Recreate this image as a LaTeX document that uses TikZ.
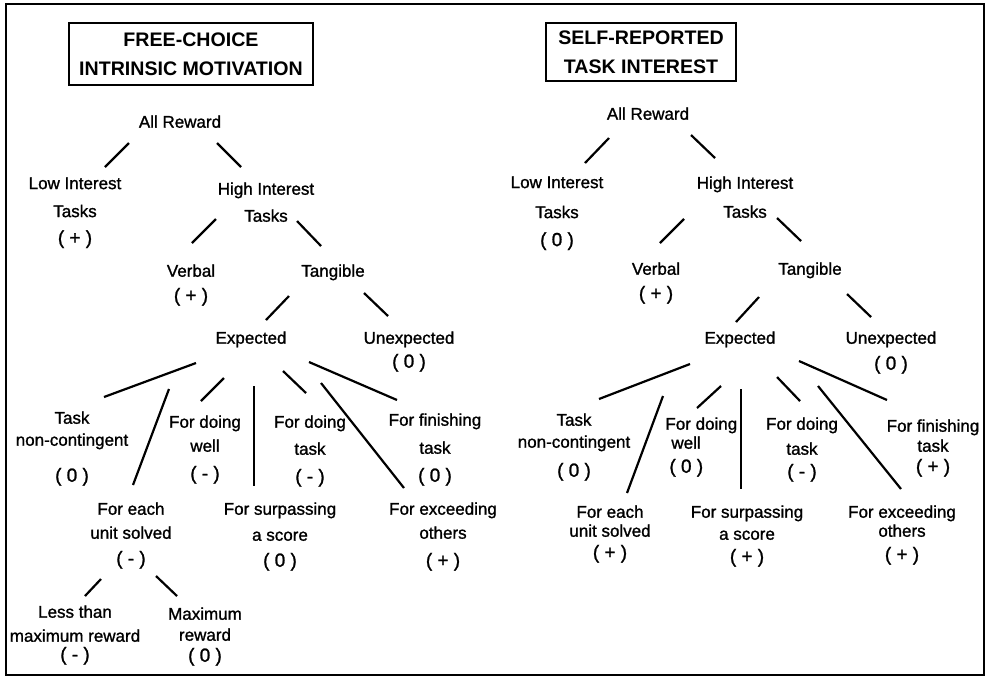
\documentclass[tikz,border=0pt]{standalone}
\usepackage{fontspec}
\setmainfont{Liberation Sans}
\newfontfamily\lblfont{Liberation Sans}[FakeBold=1.2]

\newcommand{\sg}[1]{{\fontsize{9.5}{9.5}\selectfont( #1 )}}

\begin{document}
\begin{tikzpicture}[
    x=0.5pt, y=-0.5pt,
    % Define custom styles for labels, titles and links
    lbl/.style={
        inner sep=0pt,
        align=center,
        anchor=north,
        font=\lblfont\fontsize{8.5}{9.5}\selectfont
    },
    ttl/.style={
        draw,
        line width=1.1pt,
        inner sep=0pt,
        align=center,
        font=\fontsize{9.8}{14.5}\selectfont\bfseries
    },
    link/.style={line width=1.1pt}
]
\useasboundingbox (0,0) rectangle (988,677);
\draw[line width=1pt] (6,4) rectangle (984,675);

% Titles
\node[ttl, minimum width=122pt, minimum height=31pt] (tl) at (191,54) {FREE-CHOICE\\INTRINSIC MOTIVATION};
\node[ttl, minimum width=95pt, minimum height=29pt] (tr) at (641,52) {SELF-REPORTED\\TASK INTEREST};

% Left tree
\node[lbl] (ar1) at (180,115) {All Reward};
\node[lbl] (lo1) at (75,177) {Low Interest\\[4.5pt]Tasks\\[4pt]\sg{+}};
\node[lbl] (hi1) at (266,182) {High Interest\\[4pt]Tasks};
\node[lbl] (vb1) at (191,264) {Verbal\\[3pt]\sg{+}};
\node[lbl] (tg1) at (333,264) {Tangible};
\node[lbl] (ex1) at (251,331) {Expected};
\node[lbl] (un1) at (409,331) {Unexpected\\[2.5pt]\sg{0}};
\node[lbl] (tn1) at (72,411) {Task\\[1.5pt]non-contingent\\[8.5pt]\sg{0}};
\node[lbl] (dw1) at (205,415) {For doing\\[2.5pt]well\\[4.5pt]\sg{-}};
\node[lbl] (dt1) at (310,415) {For doing\\[4pt]task\\[4.5pt]\sg{-}};
\node[lbl] (fn1) at (435,413) {For finishing\\[4.5pt]task\\[4.5pt]\sg{0}};
\node[lbl] (fe1) at (131,502) {For each\\[2.5pt]unit solved\\[3.5pt]\sg{-}};
\node[lbl] (sp1) at (280,502) {For surpassing\\[3.5pt]a score\\[3.5pt]\sg{0}};
\node[lbl] (xc1) at (443,502) {For exceeding\\[2.5pt]others\\[4.5pt]\sg{+}};
\node[lbl] (ls1) at (75,605) {Less than\\[2.5pt]maximum reward\\\sg{-}};
\node[lbl] (mx1) at (205,607) {Maximum\\[1pt]reward\\[1pt]\sg{0}};

\draw[link] ([shift={(-51,28)}]ar1.north) -- ([shift={(30,-10)}]lo1.north);
\draw[link] ([shift={(37,28)}]ar1.north) -- ([shift={(-25,-15)}]hi1.north);
\draw[link] ([shift={(-50,37)}]hi1.north) -- ([shift={(1,-21)}]vb1.north);
\draw[link] ([shift={(31,39)}]hi1.north) -- ([shift={(-12,-18)}]tg1.north);
\draw[link] ([shift={(-44,32)}]tg1.north) -- ([shift={(15,-11)}]ex1.north);
\draw[link] ([shift={(31,29)}]tg1.north) -- ([shift={(-21,-15)}]un1.north);
\draw[link] ([shift={(-55,32)}]ex1.north) -- ([shift={(32,-14)}]tn1.north);
\draw[link] ([shift={(-82,58)}]ex1.north) -- ([shift={(2,-17)}]fe1.north);
\draw[link] ([shift={(-27,47)}]ex1.north) -- ([shift={(-4,-14)}]dw1.north);
\draw[link] ([shift={(3,55)}]ex1.north) -- ([shift={(-26,-16)}]sp1.north);
\draw[link] ([shift={(32,40)}]ex1.north) -- ([shift={(-4,-22)}]dt1.north);
\draw[link] ([shift={(70,52)}]ex1.north) -- ([shift={(-39,-14)}]xc1.north);
\draw[link] ([shift={(58,31)}]ex1.north) -- ([shift={(-38,-13)}]fn1.north);
\draw[link] ([shift={(-30,77)}]fe1.north) -- ([shift={(10,-9)}]ls1.north);
\draw[link] ([shift={(25,74)}]fe1.north) -- ([shift={(-28,-11)}]mx1.north);

% Right tree
\node[lbl] (ar2) at (648,107) {All Reward};
\node[lbl] (lo2) at (557,176) {Low Interest\\[5.5pt]Tasks\\[4.5pt]\sg{0}};
\node[lbl] (hi2) at (745,176) {High Interest\\[5pt]Tasks};
\node[lbl] (vb2) at (656,262) {Verbal\\[3pt]\sg{+}};
\node[lbl] (tg2) at (810,262) {Tangible};
\node[lbl] (ex2) at (740,331) {Expected};
\node[lbl] (un2) at (891,331) {Unexpected\\[3.5pt]\sg{0}};
\node[lbl] (tn2) at (574,413) {Task\\[1.5pt]non-contingent\\[5pt]\sg{0}};
\node[lbl, align=left, anchor=north west] (dw2) at (665,417) {For doing\\\hspace{3pt}well\\[2.5pt]\hspace{2pt}\sg{0}};
\node[lbl] (dt2) at (802,417) {For doing\\[3pt]task\\[2pt]\sg{-}};
\node[lbl] (fn2) at (933,419) {For finishing\\[0.5pt]task\\[1pt]\sg{+}};
\node[lbl] (fe2) at (610,505) {For each\\unit solved\\[1.5pt]\sg{+}};
\node[lbl] (sp2) at (747,505) {For surpassing\\[1.5pt]a score\\[2pt]\sg{+}};
\node[lbl] (xc2) at (902,505) {For exceeding\\others\\[2.5pt]\sg{+}};

\draw[link] ([shift={(-39,31)}]ar2.north) -- ([shift={(28,-13)}]lo2.north);
\draw[link] ([shift={(43,28)}]ar2.north) -- ([shift={(-30,-18)}]hi2.north);
\draw[link] ([shift={(-61,43)}]hi2.north) -- ([shift={(4,-19)}]vb2.north);
\draw[link] ([shift={(32,42)}]hi2.north) -- ([shift={(-9,-21)}]tg2.north);
\draw[link] ([shift={(-51,35)}]tg2.north) -- ([shift={(-4,-9)}]ex2.north);
\draw[link] ([shift={(37,32)}]tg2.north) -- ([shift={(-20,-14)}]un2.north);
\draw[link] ([shift={(-50,33)}]ex2.north) -- ([shift={(25,-14)}]tn2.north);
\draw[link] ([shift={(-77,65)}]ex2.north) -- ([shift={(17,-12)}]fe2.north);
\draw[link] ([shift={(-19,55)}]ex2.north) -- ([shift={(32,-9)}]dw2.north west);
\draw[link] ([shift={(1,58)}]ex2.north) -- ([shift={(-6,-16)}]sp2.north);
\draw[link] ([shift={(37,46)}]ex2.north) -- ([shift={(-2,-16)}]dt2.north);
\draw[link] ([shift={(78,55)}]ex2.north) -- ([shift={(-1,-16)}]xc2.north);
\draw[link] ([shift={(59,30)}]ex2.north) -- ([shift={(-46,-19)}]fn2.north);

\end{tikzpicture}
\end{document}
